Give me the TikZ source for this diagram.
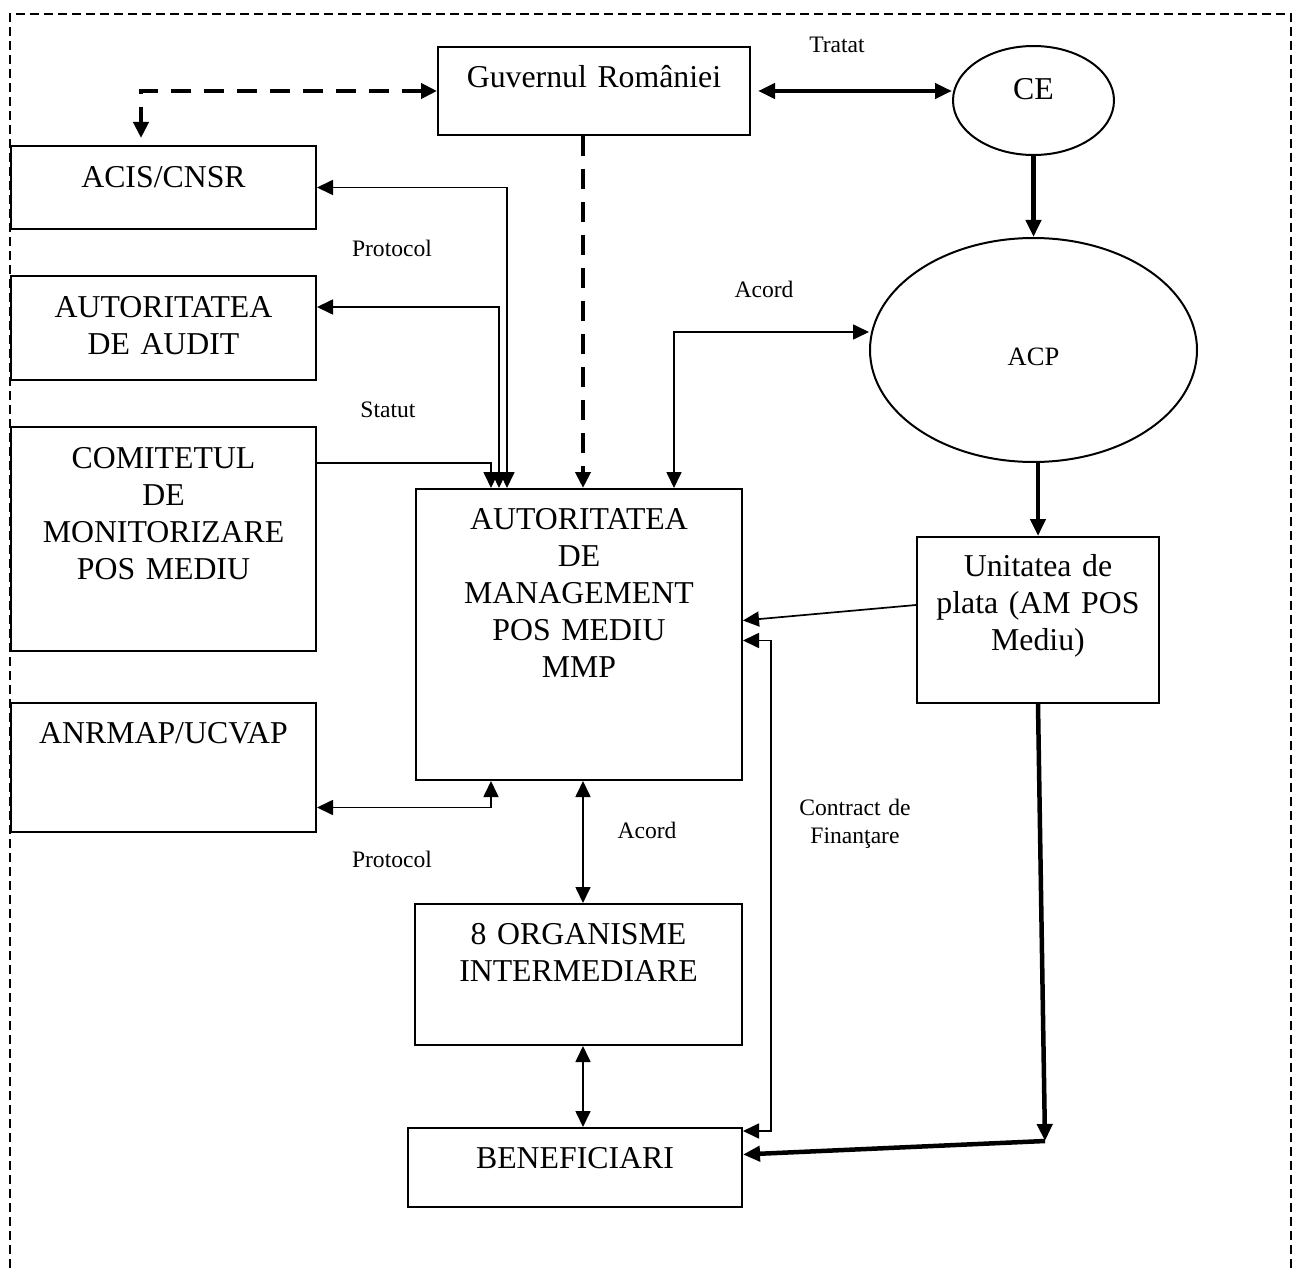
\documentclass[tikz,border=0pt]{standalone}
\usepackage{fontspec}
\setmainfont{Liberation Serif}
\usetikzlibrary{arrows.meta,shapes.geometric}
\begin{document}
\begin{tikzpicture}[x=1pt,y=-1pt,
	box/.style={rectangle,draw,line width=2pt,inner sep=0pt,anchor=north west,align=center,font={\fontsize{31.8}{37}\selectfont}},
	oval/.style={ellipse,draw,line width=2pt,inner sep=0pt},
	lbl/.style={anchor=base,inner sep=0pt,font={\fontsize{23.6}{28}\selectfont}},
	frame/.style={draw,line width=1.5pt,dash pattern=on 9pt off 5pt},
	arr/.style={draw,line width=1.7pt,>={Triangle[length=16pt,width=15pt]}},
	thick arrow/.style={draw,line width=4.5pt,>={Triangle[length=17pt,width=15pt]}},
	dash arrow/.style={draw,line width=4pt,dash pattern=on 20pt off 13pt,>={Triangle[length=16pt,width=15pt]}}]
			\useasboundingbox (0,0) rectangle (1294,1268);
			\path[frame] (10,1268) -- (10,14) -- (1291,14) -- (1291,1268);
			\node[box,text width=312pt,text height=41pt,text depth=47pt] (guv) at (437,46) {Guvernul României};
			\node[box,text width=305pt,text height=42pt,text depth=41pt] (acis) at (10,145) {ACIS/CNSR};
			\node[box,text width=305pt,text height=41pt,text depth=63pt] (audit) at (10,275) {AUTORITATEA\\DE AUDIT};
			\node[box,text width=305pt,text height=41pt,text depth=183pt] (comit) at (10,426) {COMITETUL\\DE\\MONITORIZARE\\POS MEDIU};
			\node[box,text width=305pt,text height=40pt,text depth=89pt] (anrmap) at (10,702) {ANRMAP/UCVAP};
			\node[box,text width=326pt,text height=40pt,text depth=251pt] (am) at (415,488) {AUTORITATEA\\DE\\MANAGEMENT\\POS MEDIU\\MMP};
			\node[box,text width=242pt,text height=39pt,text depth=127pt] (unit) at (916,536) {Unitatea de\\plata (AM POS\\Mediu)};
			\node[box,text width=327pt,text height=40pt,text depth=101pt] (oi) at (414,903) {8 ORGANISME\\INTERMEDIARE};
			\node[box,text width=334pt,text height=40pt,text depth=39pt] (ben) at (407,1127) {BENEFICIARI};
			\node[oval,minimum width=161pt,minimum height=109pt,text height=20pt,text depth=21pt,font={\fontsize{31.8}{37}\selectfont}] (ce) at (1033.5,100.5) {CE};
			\node[oval,minimum width=327pt,minimum height=224pt,text height=35pt,text depth=5pt,font={\fontsize{26.5}{30}\selectfont}] (acp) at (1033.5,350) {ACP};
			\node[lbl] (tratat) at (837,53) {Tratat};
			\node[lbl] (protocolA) at (392,257) {Protocol};
			\node[lbl] (acordA) at (764,298) {Acord};
			\node[lbl] (statut) at (388,417) {Statut};
			\node[lbl] (protocolB) at (392,867) {Protocol};
			\node[lbl] (acordB) at (647,838) {Acord};
			\node[lbl,text width=150pt,align=center] (contract) at (855,815) {Contract de\\Finanţare};
			\coordinate (cf) at (771,1131);
			\coordinate (drop) at (1045,1141);
			\path[dash arrow,<->] (guv.west) -| ([xshift=-22.5pt,yshift=7pt]acis.north);
			\path[dash arrow,->] ([xshift=4pt]am.north |- guv.south) -- ([xshift=4pt]am.north);
			\path[thick arrow,<->] ([xshift=7pt]guv.east) -- (ce.west |- guv.east);
			\path[thick arrow,->] (ce.south) -- (acp.north);
			\path[thick arrow,->] (unit.north |- acp.south) -- (unit.north);
			\path[thick arrow,->] (unit.south) -- (drop);
			\path[thick arrow,->] (drop) -- ([yshift=13pt]ben.east);
			\path[arr,<->] (acis.east) -| ([xshift=-72pt]am.north);
			\path[arr,<->] ([yshift=21pt]audit.east) -| ([xshift=-80pt]am.north);
			\path[arr,->] ([yshift=76pt]comit.east) -| ([xshift=-88pt]am.north);
			\path[arr,<->] ([yshift=-40pt]anrmap.east) -| ([xshift=-88pt]am.south);
			\path[arr,<->] ([xshift=95pt]am.north) |- ([yshift=18pt]acp.west);
			\path[arr,->] ([yshift=15pt]unit.west) -- ([yshift=14pt]am.east);
			\path[arr,<->] ([yshift=-6pt]am.east) -| (cf) -- (cf -| ben.east);
			\path[arr,<->] ([xshift=4pt]am.south) -- ([xshift=4pt]am.south |- oi.north);
			\path[arr,<->] ([xshift=4pt]am.south |- oi.south) -- ([xshift=4pt]am.south |- ben.north);
\end{tikzpicture}
\end{document}
